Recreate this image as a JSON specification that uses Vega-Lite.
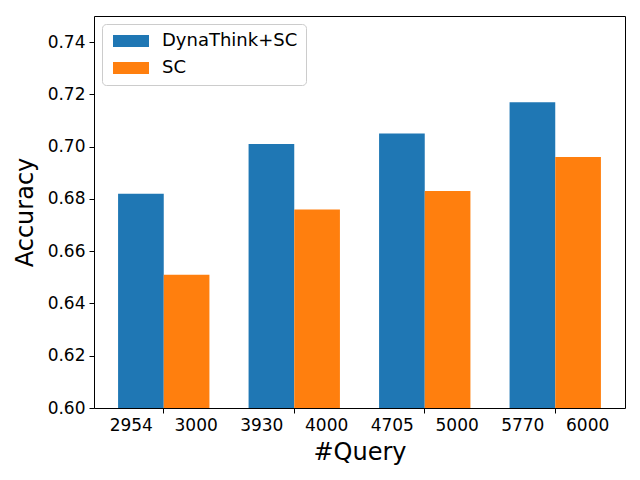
{
  "$schema": "https://vega.github.io/schema/vega-lite/v6.json",
  "width": 531,
  "height": 392,
  "autosize": {"type": "none"},
  "padding": {"left": 94, "top": 16, "right": 15, "bottom": 72},
  "background": "white",
  "data": {
    "values": [
      {"query": "2954\u00a0\u00a0\u00a0\u00a03000", "method": "DynaThink+SC", "accuracy": 0.682},
      {"query": "2954\u00a0\u00a0\u00a0\u00a03000", "method": "SC", "accuracy": 0.651},
      {"query": "3930\u00a0\u00a0\u00a0\u00a04000", "method": "DynaThink+SC", "accuracy": 0.701},
      {"query": "3930\u00a0\u00a0\u00a0\u00a04000", "method": "SC", "accuracy": 0.676},
      {"query": "4705\u00a0\u00a0\u00a0\u00a05000", "method": "DynaThink+SC", "accuracy": 0.705},
      {"query": "4705\u00a0\u00a0\u00a0\u00a05000", "method": "SC", "accuracy": 0.683},
      {"query": "5770\u00a0\u00a0\u00a0\u00a06000", "method": "DynaThink+SC", "accuracy": 0.717},
      {"query": "5770\u00a0\u00a0\u00a0\u00a06000", "method": "SC", "accuracy": 0.696}
    ]
  },
  "mark": {"type": "bar", "clip": true},
  "encoding": {
    "x": {
      "field": "query",
      "type": "nominal",
      "sort": null,
      "scale": {"paddingInner": 0.3, "paddingOuter": 0.1845},
      "axis": {
        "title": "#Query",
        "labelAngle": 0,
        "titlePadding": 7
      }
    },
    "xOffset": {
      "field": "method",
      "type": "nominal",
      "sort": ["DynaThink+SC", "SC"],
      "scale": {"paddingInner": 0, "paddingOuter": 0}
    },
    "y": {
      "field": "accuracy",
      "type": "quantitative",
      "scale": {"domain": [0.6, 0.75], "zero": false, "nice": false},
      "axis": {
        "title": "Accuracy",
        "values": [0.6, 0.62, 0.64, 0.66, 0.68, 0.7, 0.72, 0.74],
        "format": ".2f",
        "grid": false,
        "titlePadding": 10
      }
    },
    "color": {
      "field": "method",
      "type": "nominal",
      "scale": {"domain": ["DynaThink+SC", "SC"], "range": ["#1f77b4", "#ff7f0e"]},
      "legend": {
        "orient": "none",
        "legendX": 8,
        "legendY": 8,
        "title": null,
        "symbolType": "M-1,-1H5V1H-1Z",
        "symbolSize": 144,
        "symbolStrokeWidth": 0,
        "symbolOpacity": 1,
        "labelOffset": 34,
        "labelFontSize": 18,
        "labelColor": "black",
        "rowPadding": 9,
        "padding": 8,
        "strokeColor": "#cccccc",
        "fillColor": "rgba(255,255,255,0.8)",
        "cornerRadius": 4
      }
    }
  },
  "config": {
    "font": "DejaVu Sans",
    "view": {"stroke": "black", "strokeWidth": 1},
    "axis": {
      "domain": false,
      "ticks": true,
      "tickColor": "black",
      "tickSize": 5,
      "tickWidth": 1,
      "labelPadding": 4,
      "labelFontSize": 17,
      "labelColor": "black",
      "titleFontSize": 24,
      "titleFontWeight": "normal",
      "titleColor": "black",
      "grid": false
    }
  }
}
